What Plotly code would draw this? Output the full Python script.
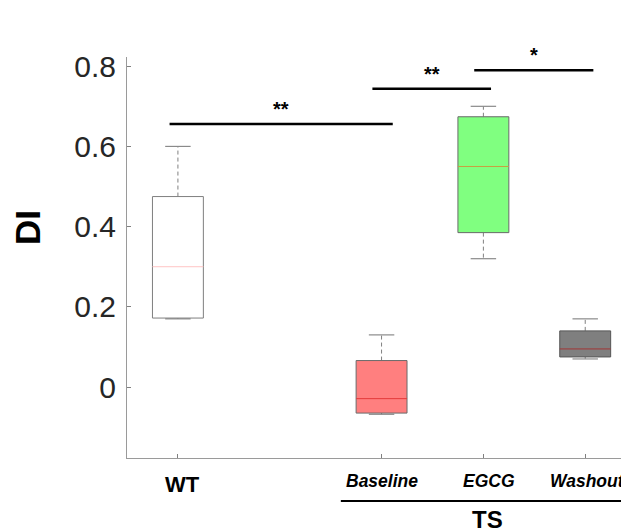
import plotly.graph_objects as go

# ---- data ----
groups = ["WT", "Baseline", "EGCG", "Washout"]
positions = [1, 3, 4, 5]
lower_whisker = [0.170, -0.068, 0.320, 0.070]
q1 = [0.172, -0.065, 0.385, 0.075]
median = [0.300, -0.029, 0.550, 0.095]
q3 = [0.475, 0.066, 0.674, 0.140]
upper_whisker = [0.600, 0.130, 0.700, 0.170]

fill_colors = ["#FFFFFF", "#FF7F7F", "#80FF80", "#7F7F7F"]
edge_colors = ["#7F7F7F", "#6A6A6A", "#6A6A6A", "#555555"]
median_colors = ["#FFC4C4", "#E33A3A", "#C8A040", "#A03535"]

y_ticks = [0, 0.2, 0.4, 0.6, 0.8]
y_tick_labels = ["0", "0.2", "0.4", "0.6", "0.8"]

# significance bars: (x start, x end, height, label)
sig_x0 = [0.918, 2.91, 3.91]
sig_x1 = [3.11, 4.075, 5.08]
sig_y = [0.656, 0.744, 0.790]
sig_label = ["**", "**", "*"]

half_w = 0.25
cap_w = 0.125

fig = go.Figure()

for i, g in enumerate(groups):
    p = positions[i]
    # whiskers (dashed)
    for a, b in [(q3[i], upper_whisker[i]), (q1[i], lower_whisker[i])]:
        fig.add_trace(go.Scatter(x=[p, p], y=[a, b], mode="lines",
                                 line=dict(color="#808080", width=1, dash="4px,3px"),
                                 hoverinfo="skip", showlegend=False))
    # caps
    for v in [upper_whisker[i], lower_whisker[i]]:
        fig.add_trace(go.Scatter(x=[p - cap_w, p + cap_w], y=[v, v], mode="lines",
                                 line=dict(color="#8A8A8A", width=1.2),
                                 hoverinfo="skip", showlegend=False))
    # box
    fig.add_trace(go.Scatter(x=[p - half_w, p + half_w, p + half_w, p - half_w, p - half_w],
                             y=[q1[i], q1[i], q3[i], q3[i], q1[i]],
                             mode="lines", fill="toself", fillcolor=fill_colors[i],
                             line=dict(color=edge_colors[i], width=1),
                             hoverinfo="skip", showlegend=False, name=g))
    # median
    fig.add_trace(go.Scatter(x=[p - half_w, p + half_w], y=[median[i], median[i]], mode="lines",
                             line=dict(color=median_colors[i], width=1),
                             hoverinfo="skip", showlegend=False))

# significance bars
for x0, x1, y, lab in zip(sig_x0, sig_x1, sig_y, sig_label):
    fig.add_trace(go.Scatter(x=[x0, x1], y=[y, y], mode="lines",
                             line=dict(color="black", width=2.5),
                             hoverinfo="skip", showlegend=False))
    fig.add_annotation(x=(x0 + x1) / 2, y=y, xref="x", yref="y", text="<b>" + lab + "</b>",
                       showarrow=False, yanchor="middle", yshift=15,
                       font=dict(size=20, color="black", family="Liberation Sans"))

# x labels
label_shift = [5, 0, 6, 2]
for i, g in enumerate(groups):
    if g == "WT":
        fig.add_annotation(x=positions[i], y=-0.0673, xref="x", yref="paper", text="<b>WT</b>",
                           showarrow=False, xshift=label_shift[i], yanchor="middle",
                           font=dict(size=22, color="black", family="Liberation Sans"))
    else:
        fig.add_annotation(x=positions[i], y=-0.0574, xref="x", yref="paper",
                           text="<b><i>" + g + "</i></b>",
                           showarrow=False, xshift=label_shift[i], yanchor="middle",
                           font=dict(size=17.5, color="black", family="Liberation Sans"))

# TS group label and underline
fig.add_shape(type="line", xref="x", yref="paper", x0=2.60, x1=5.383, y0=-0.107, y1=-0.107,
              line=dict(color="black", width=2))
fig.add_annotation(x=4.045, y=-0.153, xref="x", yref="paper", text="<b>TS</b>",
                   showarrow=False, yanchor="middle",
                   font=dict(size=24, color="black", family="Liberation Sans"))

# DI label
fig.add_annotation(x=-0.1972, y=0.5736, xref="paper", yref="paper", text="<b>DI</b>",
                   textangle=-90, showarrow=False, xanchor="center", yanchor="middle",
                   font=dict(size=35, color="black", family="Liberation Sans"))

fig.update_layout(
    width=621, height=524,
    margin=dict(l=119, r=0, t=49, b=74),
    paper_bgcolor="white", plot_bgcolor="white",
    showlegend=False,
    font=dict(family="Liberation Sans", color="#262626"),
    xaxis=dict(range=[0.5, 5.43], tickvals=positions, ticktext=["", "", "", ""],
               ticks="inside", ticklen=4, tickcolor="#808080",
               showline=True, linecolor="#9A9A9A", linewidth=1,
               showgrid=False, zeroline=False),
    yaxis=dict(range=[-0.177, 0.823], tickvals=y_ticks, ticktext=y_tick_labels,
               ticks="inside", ticklen=4, tickcolor="#808080",
               showline=True, linecolor="#9A9A9A", linewidth=1,
               showgrid=False, zeroline=False, ticklabelstandoff=4,
               tickfont=dict(size=30, color="#262626", family="Liberation Sans")),
)

fig.write_html("out.html")
